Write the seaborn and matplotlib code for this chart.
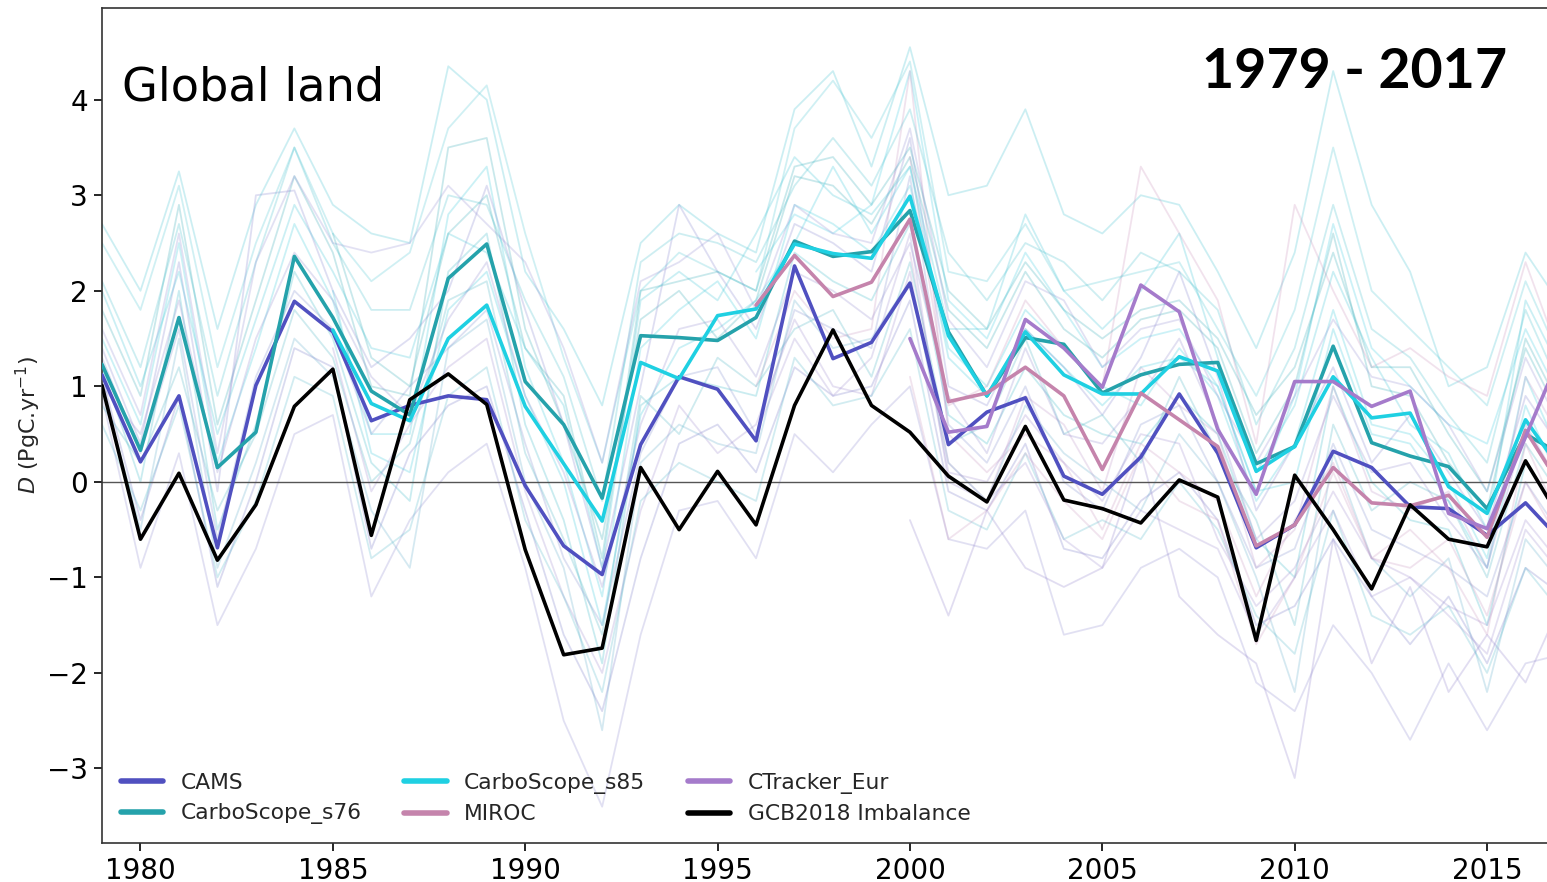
import numpy as np
import pandas as pd
import matplotlib
matplotlib.use("Agg")
import matplotlib.pyplot as plt
import seaborn as sns

nan = np.nan
years = list(range(1979, 2018))

# Highlighted inversions and the budget imbalance (PgC/yr)
cams = [1.12, 0.21, 0.90, -0.69, 1.01, 1.89, 1.57, 0.64, 0.80, 0.90,
        0.86, -0.04, -0.67, -0.97, 0.39, 1.10, 0.97, 0.43, 2.26, 1.29,
        1.46, 2.08, 0.39, 0.73, 0.88, 0.06, -0.13, 0.26, 0.92, 0.30,
        -0.69, -0.45, 0.32, 0.15, -0.26, -0.28, -0.56, -0.22, -0.65]
carboscope_s76 = [1.23, 0.33, 1.72, 0.15, 0.52, 2.36, 1.72, 0.95, 0.70, 2.13,
                  2.49, 1.05, 0.60, -0.17, 1.53, 1.51, 1.48, 1.72, 2.52, 2.36,
                  2.41, 2.84, 1.57, 0.90, 1.51, 1.44, 0.93, 1.12, 1.23, 1.25,
                  0.19, 0.37, 1.42, 0.41, 0.27, 0.16, -0.28, 0.50, 0.27]
carboscope_s85 = [nan] * 6 + [1.59, 0.82, 0.64, 1.50, 1.85, 0.79, 0.19, -0.41, 1.25, 1.08,
                              1.74, 1.81, 2.49, 2.39, 2.34, 2.99, 1.53, 0.90, 1.57, 1.12,
                              0.92, 0.92, 1.31, 1.16, 0.11, 0.37, 1.10, 0.67, 0.72, -0.05,
                              -0.33, 0.65, 0.08]
miroc = [nan] * 17 + [1.85, 2.37, 1.94, 2.09, 2.75, 0.84, 0.93, 1.20, 0.90, 0.13,
                      0.93, 0.65, 0.37, -0.67, -0.45, 0.15, -0.22, -0.25, -0.14, -0.58,
                      0.54, -0.10]
ctracker_eur = [nan] * 21 + [1.50, 0.52, 0.58, 1.70, 1.40, 0.99, 2.06, 1.78, 0.55, -0.13,
                             1.05, 1.05, 0.79, 0.95, -0.33, -0.49, 0.47, 1.42]
gcb2018_imbalance = [1.01, -0.60, 0.09, -0.82, -0.24, 0.79, 1.18, -0.56, 0.86, 1.13,
                     0.81, -0.71, -1.81, -1.74, 0.15, -0.50, 0.11, -0.45, 0.80, 1.59,
                     0.80, 0.52, 0.06, -0.21, 0.58, -0.19, -0.28, -0.43, 0.02, -0.16,
                     -1.66, 0.07, -0.50, -1.12, -0.24, -0.60, -0.68, 0.22, -0.45]

# Individual ensemble members drawn as thin background lines
member_01 = [2.7, 2.0, 3.25, 1.6, 2.9, 3.7, 2.9, 2.6, 2.5, 4.35, 4.0, 2.2, 1.6, 0.8, 2.5, 2.9, 2.6, 2.4, 3.9, 4.3,
             3.3, 4.55, 3.0, 3.1, 3.9, 2.8, 2.6, 3.0, 2.9, 2.2, 1.4, 2.4, 4.3, 2.9, 2.2, 1.0, 1.2, 2.4, 1.8]
member_02 = [2.5, 1.8, 3.1, 1.2, 2.5, 3.5, 2.6, 2.1, 2.4, 3.7, 4.15, 2.6, 1.3, 0.2, 2.0, 2.4, 2.2, 2.0, 3.7, 4.2,
             3.6, 4.4, 2.2, 2.1, 2.7, 2.0, 2.1, 2.2, 2.3, 1.6, 0.9, 1.8, 3.5, 2.0, 1.6, 1.2, 0.8, 2.1, 1.2]
member_03 = [1.8, 0.9, 2.9, 0.6, 1.9, 3.2, 2.4, 1.0, 0.9, 3.5, 3.6, 1.6, 0.6, -0.6, 1.7, 2.0, 1.5, 1.9, 3.2, 3.1,
             2.7, 3.4, 1.8, 1.4, 2.2, 1.6, 1.3, 1.7, 1.8, 1.4, 0.3, 1.0, 2.6, 1.0, 0.9, 0.2, -0.3, 1.5, 0.7]
member_04 = [1.5, 0.6, 2.5, 0.2, 1.4, 2.7, 1.9, 0.5, 0.5, 2.8, 3.3, 1.2, 0.2, -1.2, 1.4, 1.8, 2.1, 1.5, 2.9, 2.7,
             2.4, 3.1, 1.4, 1.0, 1.8, 1.4, 1.0, 0.8, 1.4, 0.9, -0.2, 0.4, 1.8, 0.6, 0.5, 0.0, -0.8, 1.1, 0.2]
member_05 = [1.0, -0.5, 1.5, -0.9, 0.2, 1.5, 1.1, -0.3, -0.9, 1.4, 1.7, 0.0, -0.9, -2.6, 0.2, 0.6, 0.4, 0.3, 1.9, 1.4,
             1.5, 2.1, 0.2, -0.2, 0.8, 0.3, 0.0, -0.3, 0.5, 0.0, -1.0, -2.2, 0.3, -0.8, -1.2, -0.8, -2.2, -0.6, -1.1]
member_06 = [1.2, 0.0, 2.0, -0.5, 0.6, 2.2, 1.5, 0.2, -0.2, 2.2, 2.6, 0.6, -0.4, -1.9, 0.8, 1.1, 1.0, 0.9, 2.4, 2.1,
             1.9, 2.7, 0.7, 0.4, 1.2, 0.7, 0.5, 0.4, 0.9, 0.5, -0.6, -1.0, 1.0, 0.0, -0.4, -0.5, -1.5, 0.2, -0.4]
member_07 = [nan] * 17 + [2.2, 2.8, 2.6, 2.9, 4.3, 1.9, 1.5, 2.4, 1.8, 1.2,
                          1.5, 1.6, 1.0, -0.1, 0.9, 2.7, 1.4, 1.0, 0.6, 0.4, 1.6, 0.8]
member_08 = [1.4, 0.4, 2.3, -0.1, 3.0, 3.05, 2.0, 1.2, 1.5, 2.0, 3.1, 1.8, 0.6, -0.9, 1.0, 2.9, 2.2, 1.6, 2.7, 2.5,
             2.2, 3.6, 1.0, 0.8, 1.6, 1.2, 0.7, 1.3, 2.2, 1.1, -0.3, 0.4, 1.2, 0.2, 0.7, 0.1, -0.5, 0.9, 0.3]
member_09 = [0.9, -0.9, 0.3, -1.5, -0.7, 0.5, 0.7, -1.2, -0.4, 0.1, 0.4, -0.9, -2.5, -3.4, -1.6, -0.3, -0.2, -0.8, 0.5, 0.1,
             0.6, 1.0, -0.6, -0.7, -0.3, -1.6, -1.5, -0.9, -0.7, -1.0, -2.1, -2.4, -1.5, -2.0, -2.7, -1.9, -2.6, -1.9, -1.8]
member_10 = [1.1, -0.4, 0.9, -1.1, 0.0, 1.4, 1.2, -0.7, 0.3, 0.8, 1.0, -0.3, -1.6, -2.4, -0.8, 0.4, 0.6, 0.1, 1.2, 0.9,
             1.0, 1.9, -0.1, -0.3, 0.4, -0.7, -0.8, -0.2, 0.1, -0.4, -1.5, -1.3, -0.6, -1.2, -1.7, -1.2, -1.9, -0.9, -1.2]
member_11 = [nan] * 21 + [-0.4, -1.4, -0.3, -0.9, -1.1, -0.9, 0.3, -1.2, -1.6, -1.9,
                          -3.1, -0.6, -1.9, -1.1, -2.2, -1.6, -2.1, -1.2]
member_12 = [1.3, 0.3, 1.6, -0.6, 1.1, 2.0, 1.6, 0.5, 1.0, 1.4, 1.8, 0.4, -0.8, -1.5, 0.3, 1.1, 1.2, 0.5, 1.8, 1.6,
             1.4, 3.2, 0.6, 0.2, 1.0, 0.0, -0.3, 0.6, 0.8, 0.0, -0.9, -0.7, 0.4, -0.5, -0.7, -0.9, -1.2, 0.0, -0.6]
member_13 = [nan] * 21 + [3.4, 0.8, 1.0, 1.9, 1.4, 1.0, 3.3, 2.6, 1.9, 0.4,
                          2.9, 2.0, 1.2, 1.4, 1.1, 0.9, 2.3, 1.2]
member_14 = [nan] * 17 + [1.0, 2.0, 1.5, 1.6, 4.3, 0.5, 0.1, 0.5, 0.2, -0.5,
                          0.4, 0.1, -0.2, -1.2, -0.4, 0.2, -0.8, -0.9, -0.6, -1.4, 0.0, -0.7]
member_15 = [nan] * 21 + [2.4, 0.2, -0.2, 0.9, 0.6, -0.1, 1.2, 0.8, 0.5, -0.9,
                          -0.5, 1.0, -0.1, -0.3, -0.1, -0.9, 1.1, 0.4]
member_16 = [2.1, 1.2, 2.7, 0.9, 2.3, 3.5, 2.5, 1.8, 1.8, 3.0, 2.9, 1.9, 1.1, -0.2, 2.3, 2.6, 2.5, 2.3, 3.1, 3.6,
             3.1, 3.9, 2.4, 1.9, 2.5, 2.3, 1.9, 2.4, 2.2, 1.8, 0.6, 1.4, 2.9, 1.6, 1.3, 0.7, 0.2, 1.8, 0.9]
member_17 = [1.6, 0.7, 2.6, 0.3, 2.3, 3.2, 2.5, 2.4, 2.5, 3.1, 2.7, 2.3, 1.4, 0.2, 2.1, 2.3, 2.6, 1.8, 2.9, 2.6,
             2.5, 3.7, 1.7, 1.2, 2.1, 1.9, 1.2, 1.6, 1.7, 0.9, 0.2, 0.9, 1.7, 1.1, 1.0, 0.6, -0.1, 1.3, 0.5]
member_18 = [nan] * 6 + [2.0, 0.3, 0.1, 1.8, 2.2, 0.9, 0.0, -1.5, 0.7, 1.4,
                         1.6, 1.9, 2.5, 3.3, 2.6, 3.3, 1.3, 0.9, 1.6, 1.2,
                         0.8, 1.2, 1.3, 1.0, -0.1, 0.0, 1.6, 0.5, 0.4, -0.2, -0.9, 0.8, -0.1]
member_19 = [0.8, 0.2, 1.2, -0.3, 0.5, 1.8, 1.3, 0.0, 0.4, 1.9, 2.1, 0.3, -0.6, -1.6, 0.9, 0.5, 1.3, 1.0, 1.6, 1.8,
             1.1, 2.3, 0.4, 0.6, 1.5, 0.5, 0.7, 0.2, 1.1, 0.3, -0.4, -1.5, 0.6, -0.3, 0.0, -0.2, -1.0, 0.4, -0.2]
member_20 = [nan] * 6 + [1.4, -0.1, 0.6, 1.2, 1.5, -0.1, -1.2, -2.0, -0.3, 0.8,
                         0.3, 0.6, 1.7, 1.0, 0.9, 2.2, 0.1, 0.0, 0.7, 0.2,
                         -0.2, 0.5, 0.4, -0.6, -1.3, -0.9, -0.1, -0.8, -1.0, -1.3, -1.5, -0.4, -0.9]
member_21 = [2.0, 1.0, 2.2, 0.5, 1.7, 2.9, 2.2, 1.4, 1.3, 2.6, 2.4, 1.4, 0.8, -0.9, 1.9, 2.2, 1.9, 2.6, 3.4, 3.0,
             2.8, 3.3, 1.6, 1.6, 2.8, 2.0, 1.6, 2.0, 2.6, 1.3, 0.1, 0.8, 2.2, 1.3, 0.6, 0.3, -0.5, 1.9, 1.1]
member_22 = [1.0, 0.5, 1.9, 0.1, 1.5, 2.4, 1.9, 1.1, 0.7, 1.7, 2.3, 0.9, 0.1, -1.1, 0.6, 1.6, 1.7, 1.1, 2.2, 2.0,
             1.7, 2.5, 0.9, 0.3, 1.4, 0.5, 0.4, 0.9, 1.5, 0.6, -0.6, -0.2, 0.9, 0.1, 0.2, -0.4, -0.9, 0.6, -0.1]
member_23 = [0.6, -0.3, 0.8, -1.0, -0.2, 1.1, 0.9, -0.8, -0.5, 0.9, 1.2, -0.4, -1.2, -2.2, -0.2, 0.2, 0.0, -0.2, 1.3, 0.8,
             0.9, 1.6, -0.3, -0.5, 0.3, -0.6, -0.4, -0.6, 0.0, -0.5, -1.4, -1.8, -0.3, -1.4, -1.6, -1.3, -2.0, -0.9, -1.4]
member_24 = [nan] * 21 + [1.1, -0.6, -0.3, 0.3, -0.2, -0.6, 0.3, -0.2, -0.4, -1.7,
                          -1.0, 0.1, -0.8, -0.5, -0.9, -1.6, 0.4, -0.5]
member_25 = [nan] * 6 + [2.6, 1.3, 1.0, 2.6, 3.0, 1.4, 0.9, -0.8, 2.0, 2.1,
                         2.2, 2.0, 3.3, 3.4, 2.9, 3.5, 2.0, 1.6, 2.3, 1.8,
                         1.5, 1.8, 1.9, 1.5, 0.7, 1.2, 2.4, 1.2, 1.2, 0.5, -0.1, 1.4, 0.6]
member_26 = [nan] * 17 + [0.5, 1.5, 0.9, 1.3, 2.6, 0.0, -0.2, 0.2, -0.6, -0.9,
                          -0.3, -0.5, -0.7, -1.6, -1.0, -0.3, -1.2, -1.0, -1.4, -1.8, -0.5, -1.0]

series_names = ["CAMS", "CarboScope_s76", "CarboScope_s85", "MIROC",
                "CTracker_Eur", "GCB2018 Imbalance"]
series_values = [cams, carboscope_s76, carboscope_s85, miroc,
                 ctracker_eur, gcb2018_imbalance]
series_colors = ["#5050c0", "#25a2ab", "#1fd0e2", "#c584ac", "#a57bcb", "#000000"]

members = [member_01, member_02, member_03, member_04, member_05, member_06,
           member_07, member_08, member_09, member_10, member_11, member_12,
           member_13, member_14, member_15, member_16, member_17, member_18,
           member_19, member_20, member_21, member_22, member_23, member_24,
           member_25, member_26]
member_colors = ["#35bfcf", "#45c4d2", "#2aa6b2", "#30c8da", "#5aa9c9", "#2fb4c4",
                 "#36cbe0", "#7f7fcc", "#8a86cf", "#6f70c4", "#8a7ac8", "#7b88cc",
                 "#c98fb9", "#c591bd", "#b98fc6", "#3cbccb", "#8f8ad2", "#2fc6da",
                 "#40b0c0", "#9a86cc", "#33c2d4", "#8c84cc", "#4cb6c8", "#c895be",
                 "#2aa8b4", "#9a88cf"]

sns.set_theme(style="ticks")
plt.rcParams["font.family"] = ["DejaVu Sans"]

fig = plt.figure(figsize=(15.47, 8.82), dpi=100)
ax = fig.add_axes([102 / 1547, 39 / 882, 1462 / 1547, 835 / 882])

for vals, col in zip(members, member_colors):
    df = pd.DataFrame({"year": years, "value": vals}).dropna()
    sns.lineplot(data=df, x="year", y="value", ax=ax, color=col, alpha=0.25,
                 linewidth=1.3, errorbar=None, sort=False, legend=False)

ax.axhline(0, color="#555555", linewidth=1.0, zorder=2)

for name, vals, col in zip(series_names, series_values, series_colors):
    df = pd.DataFrame({"year": years, "value": vals}).dropna()
    sns.lineplot(data=df, x="year", y="value", ax=ax, color=col, linewidth=2.6,
                 errorbar=None, sort=False, label=name, zorder=5)

ax.set_xlim(1979, 2017)
ax.set_ylim(-3.78, 4.96)
ax.set_xticks([1980, 1985, 1990, 1995, 2000, 2005, 2010, 2015])
ax.set_yticks([-3, -2, -1, 0, 1, 2, 3, 4])
ax.set_xlabel("")
ax.set_ylabel(r"$D$ (PgC.yr$^{-1}$)", fontsize=16, labelpad=3)
ax.tick_params(axis="both", direction="out", length=6, width=1.2, labelsize=20,
               colors="#000000", pad=4)
for side in ["left", "bottom", "top", "right"]:
    ax.spines[side].set_color("#333333")
    ax.spines[side].set_linewidth(1.2)

leg = ax.legend(loc="lower left", ncol=3, frameon=False, fontsize=15.7,
                handlelength=1.95, handletextpad=0.8, columnspacing=1.95,
                labelspacing=0.5, borderaxespad=0.45)
for h in leg.get_lines():
    h.set_linewidth(4)

ax.text(0.0137, 0.889, "Global land", transform=ax.transAxes, fontsize=33.3,
        ha="left", va="baseline", color="black")
fig.text(1507 / 1547, (882 - 88) / 882, "1979 - 2017", fontsize=40,
         fontweight="bold", family=["Lato", "DejaVu Sans"], ha="right",
         va="baseline", color="black")

fig.savefig("out.png", dpi=100)
